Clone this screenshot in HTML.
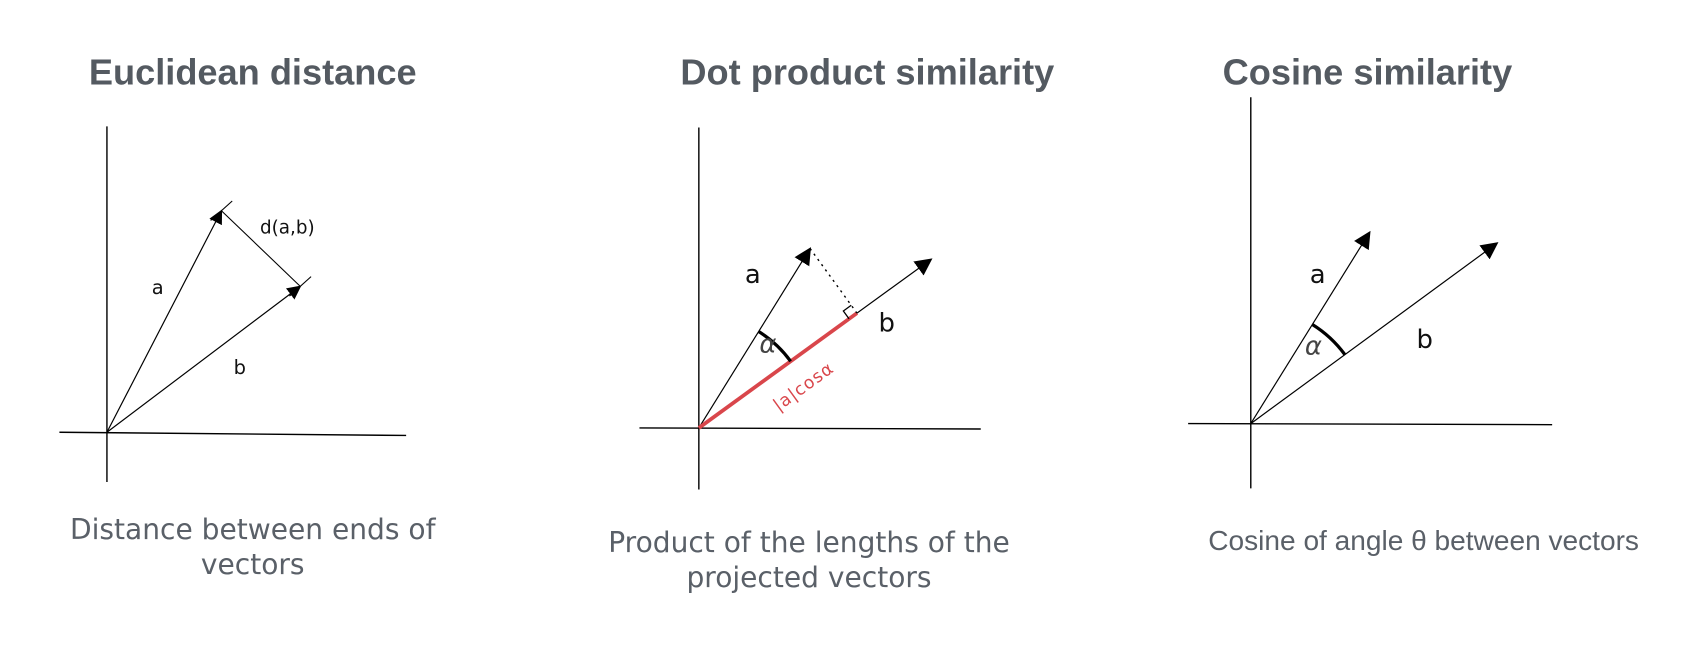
<!DOCTYPE html>
<html><head><meta charset="utf-8">
<style>
html,body{margin:0;padding:0;background:#fff;}
svg{display:block;}
.title{font-family:"Liberation Sans",Arial,sans-serif;font-weight:bold;font-size:33.5px;fill:#545a61;}
.sub{font-family:"DejaVu Sans",sans-serif;font-size:26px;fill:#5a6068;}
.sub2{font-family:"Liberation Sans",Arial,sans-serif;font-size:26px;fill:#5a6068;}
.hand{font-family:"DejaVu Sans",sans-serif;font-size:18px;fill:#111;}
</style></head>
<body>
<svg id="fig" width="1685" height="657" viewBox="0 0 1560 608" preserveAspectRatio="none">
<defs>
<marker id="ah" viewBox="0 0 10 10" refX="9" refY="5" markerWidth="13" markerHeight="13" markerUnits="userSpaceOnUse" orient="auto">
<path d="M0,0 L10,5 L0,10 z" fill="#000"/></marker>
<marker id="ah2" viewBox="0 0 10 10" refX="9" refY="5" markerWidth="16" markerHeight="16" markerUnits="userSpaceOnUse" orient="auto">
<path d="M0,0 L10,5 L0,10 z" fill="#000"/></marker>
</defs>
<text class="title" x="234" y="78" text-anchor="middle">Euclidean distance</text>
<text class="title" x="803" y="78" text-anchor="middle">Dot product similarity</text>
<text class="title" x="1266" y="78" text-anchor="middle">Cosine similarity</text>
<text class="sub" x="234" y="499" text-anchor="middle">Distance between ends of</text>
<text class="sub" x="234" y="531" text-anchor="middle">vectors</text>
<text class="sub" x="749" y="511" text-anchor="middle">Product of the lengths of the</text>
<text class="sub" x="749" y="543" text-anchor="middle">projected vectors</text>
<text class="sub2" x="1318" y="509" text-anchor="middle">Cosine of angle θ between vectors</text>
<g id="plots"></g>
</svg>
<script>
// panel origins / axes (layout)
const panelNames = ['euclidean', 'dot-product', 'cosine'];
const origins = [[99,400],[647,396],[1158,392]];
const yAxisTop = [117,118,90];
const yAxisBottom = [446,453,452];
const xAxisLeft = [55,592,1100];
const xAxisRight = [376,908,1437];
// vector data (x right, y up) per panel
const vecAx = [106, 103, 110];
const vecAy = [205, 166, 177];
const vecBx = [179, 215, 228];
const vecBy = [135, 156, 167];

const NS = 'http://www.w3.org/2000/svg';
const g = document.getElementById('plots');
function sx(p, v){ return origins[p][0] + v; }
function sy(p, v){ return origins[p][1] - v; }
function mk(tag, attrs, parent){
  const e = document.createElementNS(NS, tag);
  for (const k in attrs) e.setAttribute(k, attrs[k]);
  (parent || g).appendChild(e);
  return e;
}
for (let p = 0; p < 3; p++){
  const ox = origins[p][0], oy = origins[p][1];
  const big = p > 0;
  const ya = mk('line', {x1: ox, y1: yAxisTop[p], x2: ox, y2: yAxisBottom[p], stroke: '#000', 'stroke-width': 1.3});
  
  
  const xa = mk('line', {x1: xAxisLeft[p], y1: oy, x2: xAxisRight[p], y2: oy + (p === 0 ? 3 : 1), stroke: '#000', 'stroke-width': 1.3});
  
  
  const ax = sx(p, vecAx[p]), ay = sy(p, vecAy[p]);
  const bx = sx(p, vecBx[p]), by = sy(p, vecBy[p]);
  const va = mk('line', {x1: ox, y1: oy, x2: ax, y2: ay, stroke: '#000', 'stroke-width': 1.1, 'marker-end': big ? 'url(#ah2)' : 'url(#ah)'});
  
  
  const vb = mk('line', {x1: ox, y1: oy, x2: bx, y2: by, stroke: '#000', 'stroke-width': 1.1, 'marker-end': big ? 'url(#ah2)' : 'url(#ah)'});
  
  
  if (p === 1){
    const bl2 = vecBx[p]*vecBx[p] + vecBy[p]*vecBy[p];
    const t = (vecAx[p]*vecBx[p] + vecAy[p]*vecBy[p]) / bl2;
    const px = sx(p, vecBx[p]*t), py = sy(p, vecBy[p]*t);
    const red = mk('line', {x1: ox, y1: oy, x2: px, y2: py, stroke: '#d9464b', 'stroke-width': 3.5});
    
    
    const dot = mk('line', {x1: ax, y1: ay, x2: px, y2: py, stroke: '#000', 'stroke-width': 1.3, 'stroke-dasharray': '2,4'});
    
    
    const bl = Math.sqrt(bl2), ux = vecBx[p]/bl, uy = -vecBy[p]/bl;
    const nx = uy, ny = -ux, s = 9;
    const ra = mk('path', {d: `M${px-ux*s},${py-uy*s} L${px-ux*s+nx*s},${py-uy*s+ny*s} L${px+nx*s},${py+ny*s}`, fill: 'none', stroke: '#000', 'stroke-width': 1.2});
    
    
    const ang = Math.atan2(vecBy[p], vecBx[p]) * 180 / Math.PI;
    const lab = mk('text', {x: 0, y: 0, 'text-anchor': 'middle', transform: `translate(${ox+100},${oy-34}) rotate(${-ang})`, style: 'font-family:"DejaVu Sans",sans-serif;font-size:16px;fill:#d9464b;letter-spacing:1px'});
    lab.textContent = '|a|cosα';
    
    
  }
  if (p === 0){
    const d = mk('line', {x1: ax, y1: ay, x2: bx, y2: by, stroke: '#000', 'stroke-width': 1});
    
    
    for (const [tx, ty, nm] of [[ax, ay, 'a'], [bx, by, 'b']]){
      const tk = mk('line', {x1: tx - 10, y1: ty + 9, x2: tx + 10, y2: ty - 9, stroke: '#000', 'stroke-width': 1});
      
      
    }
    const dl = mk('text', {x: 266, y: 216, 'text-anchor': 'middle', class: 'hand', style: 'font-size:17px'});
    dl.textContent = 'd(a,b)';
    
    
  } else {
    const r = p === 1 ? 105 : 108;
    const a1 = Math.atan2(vecAy[p], vecAx[p]), a2 = Math.atan2(vecBy[p], vecBx[p]);
    const arc = mk('path', {d: `M${ox+r*Math.cos(a1)},${oy-r*Math.sin(a1)} A${r},${r} 0 0 1 ${ox+r*Math.cos(a2)},${oy-r*Math.sin(a2)}`, fill: 'none', stroke: '#000', 'stroke-width': 3});
    
    
    const al = mk('text', {x: ox + (p === 1 ? 64 : 58), y: oy - (p === 1 ? 70 : 64), 'text-anchor': 'middle', style: 'font-family:"DejaVu Sans",sans-serif;font-size:24px;fill:#444;font-style:italic'});
    al.textContent = 'α';
    
    
  }
  const la = [[146,272],[697,262],[1220,262]][p];
  const lb = [[222,346],[821,307],[1319,322]][p];
  const ta = mk('text', {x: la[0], y: la[1], 'text-anchor': 'middle', class: 'hand', style: big ? 'font-size:24px' : ''});
  ta.textContent = 'a';
  
  
  const tb = mk('text', {x: lb[0], y: lb[1], 'text-anchor': 'middle', class: 'hand', style: big ? 'font-size:24px' : ''});
  tb.textContent = 'b';
  
  
}
</script>
</body></html>
